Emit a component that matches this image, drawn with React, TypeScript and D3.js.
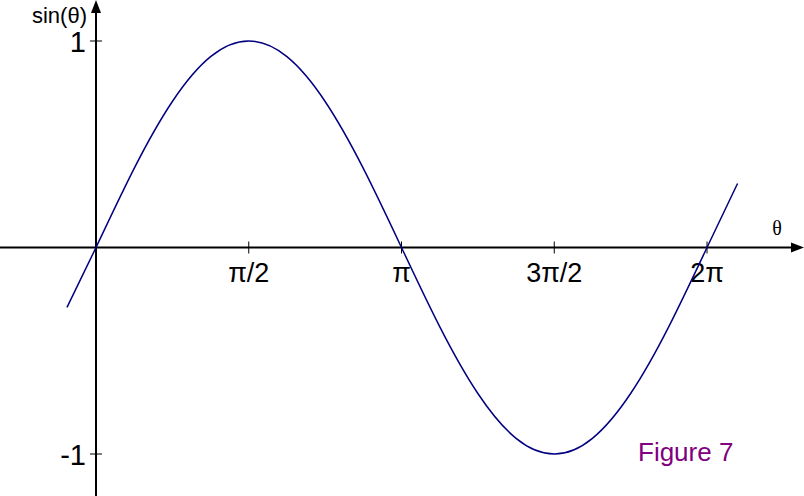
import React from "react";
import * as d3 from "d3";

// Sample angles (in multiples of π) and sin values
const thetaPi = [-0.095, 0, 0.125, 0.25, 0.375, 0.5, 0.625, 0.75, 0.875, 1, 1.125, 1.25, 1.375, 1.5, 1.625, 1.75, 1.875, 2, 2.1];
const sinVals = [-0.29, 0, 0.383, 0.707, 0.924, 1, 0.924, 0.707, 0.383, 0, -0.383, -0.707, -0.924, -1, -0.924, -0.707, -0.383, 0, 0.31];

const xTickPi = [0.5, 1, 1.5, 2];
const xTickLabels = ["π/2", "π", "3π/2", "2π"];
const yTicks = [1, -1];
const yTickLabels = ["1", "-1"];

const W = 804;
const H = 496;

export default function App() {
  const x = d3.scaleLinear().domain([0, 2 * Math.PI]).range([96, 707]);
  const y = d3.scaleLinear().domain([-1, 1]).range([454, 41]);
  const x0 = x(0);
  const y0 = y(0);

  const pts: [number, number][] = thetaPi.map((t, i) => [t * Math.PI, sinVals[i]]);
  const line = d3
    .line<[number, number]>()
    .x((d) => x(d[0]))
    .y((d) => y(d[1]))
    .curve(d3.curveNatural);

  const sans = "'Liberation Sans', Arial, sans-serif";

  return (
    <svg
      width={W}
      height={H}
      style={{ position: "absolute", left: 0, top: 0, background: "#fff" }}
    >
      <rect x={0} y={0} width={W} height={H} fill="#fff" />
      {/* axes */}
      <line x1={0} x2={W - 8} y1={y0} y2={y0} stroke="#000" strokeWidth={2} />
      <line x1={x0} x2={x0} y1={8} y2={H} stroke="#000" strokeWidth={2} />
      <path d={`M${W},${y0} L${W - 13},${y0 - 5} L${W - 13},${y0 + 5} Z`} fill="#000" />
      <path d={`M${x0},0 L${x0 - 5},13 L${x0 + 5},13 Z`} fill="#000" />

      {/* x ticks */}
      {xTickPi.map((t, i) => (
        <g key={"xt" + i}>
          <line x1={x(t * Math.PI)} x2={x(t * Math.PI)} y1={y0 - 6} y2={y0 + 6} stroke="#000" strokeWidth={1} />
          <text x={x(t * Math.PI)} y={282} textAnchor="middle" fontFamily={sans} fontSize={27} fill="#000">
            {xTickLabels[i]}
          </text>
        </g>
      ))}

      {/* y ticks */}
      {yTicks.map((v, i) => (
        <g key={"yt" + i}>
          <line x1={x0 - 6} x2={x0 + 6} y1={y(v)} y2={y(v)} stroke="#000" strokeWidth={1} />
          <text x={86} y={y(v) + 11} textAnchor="end" fontFamily={sans} fontSize={29} fill="#000">
            {yTickLabels[i]}
          </text>
        </g>
      ))}

      {/* axis labels */}
      <text x={87} y={23} textAnchor="end" fontFamily={sans} fontSize={22} fill="#000">
        sin(θ)
      </text>
      <text x={777} y={235} textAnchor="middle" fontFamily="'Liberation Serif', 'Times New Roman', serif" fontSize={20} fill="#000">
        θ
      </text>

      {/* curve */}
      <path d={line(pts) || ""} fill="none" stroke="#000080" strokeWidth={1.5} />

      <text x={638} y={461} fontFamily={sans} fontSize={26} fill="#800080">
        Figure 7
      </text>
    </svg>
  );
}
